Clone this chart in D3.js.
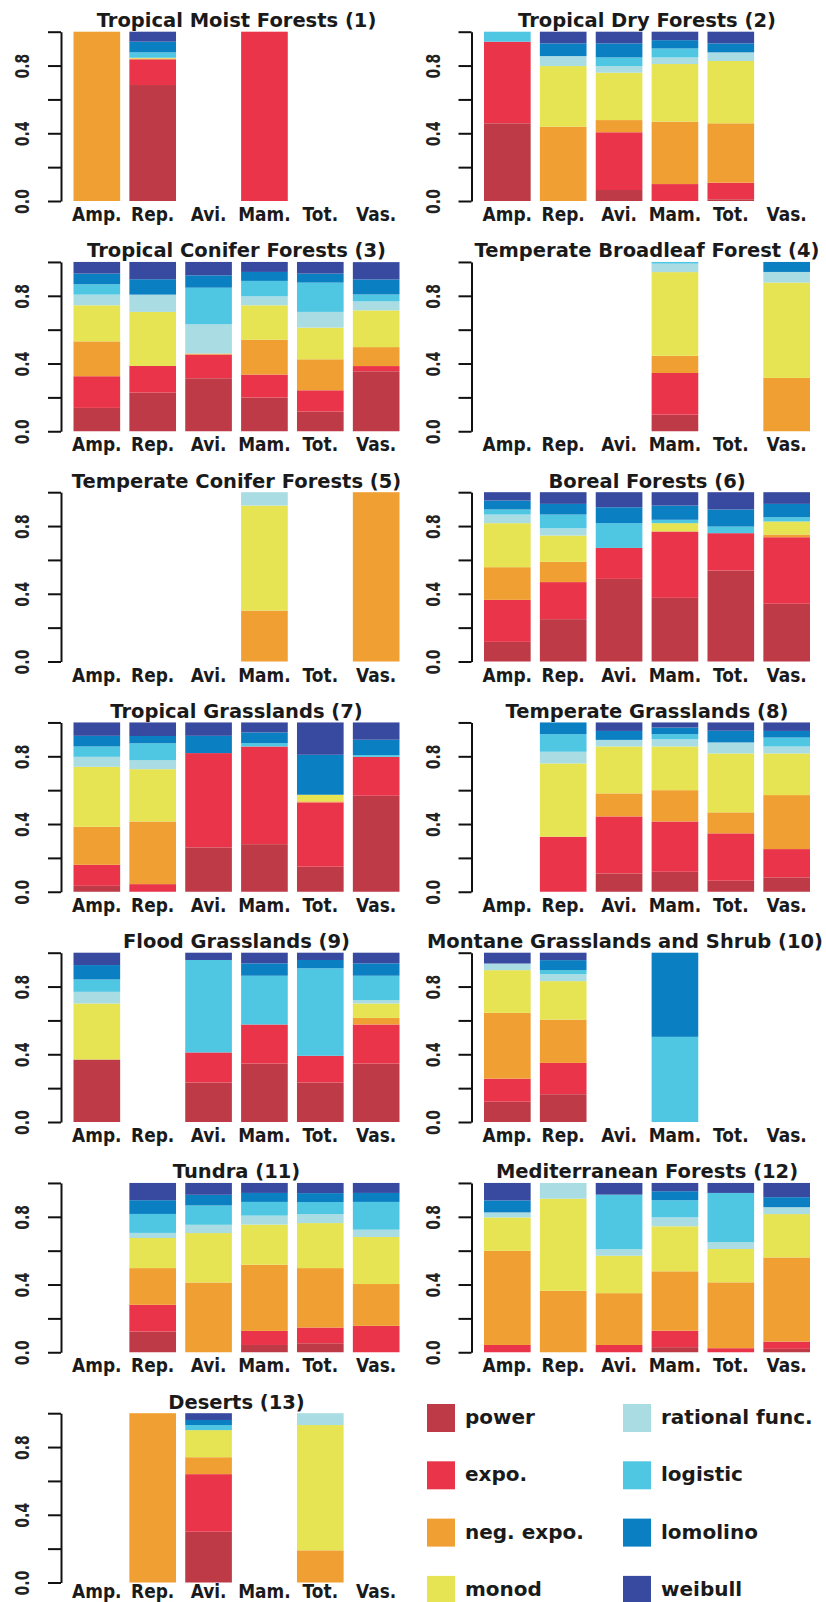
<!DOCTYPE html>
<html>
<head>
<meta charset="utf-8">
<script src="https://cdn.jsdelivr.net/npm/d3@7"></script>
<style>
  body { margin: 0; background: #fff; }
  svg { display: block; font-family: "DejaVu Sans", sans-serif; }
</style>
</head>
<body>
<svg width="826" height="1602"></svg>
<script>
// model types, in stacking order (bottom to top)
const methods = ['power', 'expo.', 'neg. expo.', 'monod', 'rational func.', 'logistic', 'lomolino', 'weibull'];
const palette = ['#be3a46', '#e9344a', '#f0a033', '#e6e452', '#a9dce3', '#4fc6e2', '#0a7fc2', '#374aa0'];
const taxa = ['Amp.', 'Rep.', 'Avi.', 'Mam.', 'Tot.', 'Vas.'];
const yTicks = [0, 0.2, 0.4, 0.6, 0.8, 1];
const yLabels = ['0.0', '', '0.4', '', '0.8', ''];

const biomes = [
  'Tropical Moist Forests (1)', 'Tropical Dry Forests (2)', 'Tropical Conifer Forests (3)',
  'Temperate Broadleaf Forest (4)', 'Temperate Conifer Forests (5)', 'Boreal Forests (6)',
  'Tropical Grasslands (7)', 'Temperate Grasslands (8)', 'Flood Grasslands (9)',
  'Montane Grasslands and Shrub (10)', 'Tundra (11)', 'Mediterranean Forests (12)', 'Deserts (13)'
];

// one entry per taxon: proportions of each method, null = no data
const tropicalMoist = [
  [0, 0, 1, 0, 0, 0, 0, 0],
  [0.685, 0.152, 0.005, 0.004, 0, 0.032, 0.063, 0.059],
  null,
  [0, 1, 0, 0, 0, 0, 0, 0],
  null,
  null
];
const tropicalDry = [
  [0.459, 0.482, 0, 0, 0, 0.059, 0, 0],
  [0, 0, 0.439, 0.358, 0.059, 0, 0.075, 0.069],
  [0.065, 0.341, 0.072, 0.280, 0.039, 0.051, 0.083, 0.069],
  [0, 0.100, 0.369, 0.340, 0.039, 0.053, 0.049, 0.050],
  [0.010, 0.098, 0.351, 0.368, 0.051, 0, 0.053, 0.069],
  null
];
const tropicalConifer = [
  [0.138, 0.187, 0.206, 0.213, 0.063, 0.061, 0.063, 0.069],
  [0.228, 0.158, 0, 0.319, 0.102, 0, 0.091, 0.102],
  [0.313, 0.140, 0.006, 0, 0.173, 0.216, 0.073, 0.079],
  [0.199, 0.136, 0.206, 0.203, 0.053, 0.091, 0.053, 0.059],
  [0.116, 0.126, 0.183, 0.187, 0.093, 0.173, 0.053, 0.069],
  [0.354, 0.031, 0.112, 0.217, 0.053, 0.041, 0.089, 0.102]
];
const temperateBroadleaf = [
  null,
  null,
  null,
  [0.098, 0.246, 0.102, 0.494, 0.050, 0.010, 0, 0],
  null,
  [0, 0, 0.315, 0.563, 0.063, 0, 0.059, 0]
];
const temperateConifer = [
  null,
  null,
  null,
  [0, 0, 0.301, 0.620, 0.079, 0, 0, 0],
  null,
  [0, 0, 1, 0, 0, 0, 0, 0]
];
const boreal = [
  [0.116, 0.248, 0.193, 0.260, 0.051, 0.030, 0.053, 0.049],
  [0.250, 0.219, 0.120, 0.155, 0.043, 0.081, 0.063, 0.069],
  [0.488, 0.183, 0, 0, 0, 0.146, 0.094, 0.089],
  [0.376, 0.392, 0, 0.049, 0, 0.020, 0.084, 0.079],
  [0.537, 0.221, 0, 0, 0, 0.039, 0.101, 0.102],
  [0.341, 0.393, 0.016, 0.077, 0, 0.025, 0.079, 0.069]
];
const tropicalGrass = [
  [0.035, 0.124, 0.225, 0.354, 0.059, 0.061, 0.063, 0.079],
  [0, 0.045, 0.370, 0.309, 0.053, 0.100, 0.043, 0.080],
  [0.262, 0.557, 0, 0, 0, 0, 0.102, 0.079],
  [0.281, 0.577, 0, 0, 0, 0.020, 0.063, 0.059],
  [0.148, 0.380, 0.006, 0.039, 0, 0, 0.236, 0.191],
  [0.567, 0.230, 0, 0, 0, 0.010, 0.091, 0.102]
];
const temperateGrass = [
  null,
  [0, 0.325, 0, 0.433, 0.069, 0.104, 0.069, 0],
  [0.108, 0.337, 0.136, 0.277, 0.039, 0, 0.053, 0.050],
  [0.118, 0.297, 0.185, 0.258, 0.043, 0.030, 0.039, 0.030],
  [0.065, 0.280, 0.124, 0.348, 0.065, 0, 0.069, 0.049],
  [0.085, 0.167, 0.319, 0.246, 0.041, 0.053, 0.039, 0.050]
];
const floodGrass = [
  [0.369, 0, 0, 0.331, 0.069, 0.073, 0.085, 0.073],
  null,
  [0.233, 0.178, 0, 0, 0, 0.546, 0, 0.043],
  [0.345, 0.231, 0, 0, 0, 0.288, 0.073, 0.063],
  [0.233, 0.158, 0, 0, 0, 0.517, 0.049, 0.043],
  [0.345, 0.231, 0.039, 0.085, 0.020, 0.144, 0.073, 0.063]
];
const montane = [
  [0.120, 0.136, 0.389, 0.252, 0.039, 0, 0, 0.064],
  [0.164, 0.185, 0.256, 0.227, 0.041, 0.024, 0.059, 0.044],
  null,
  [0, 0, 0, 0, 0, 0.503, 0.497, 0],
  null,
  null
];
const tundra = [
  null,
  [0.122, 0.158, 0.217, 0.178, 0.030, 0.112, 0.081, 0.102],
  [0, 0, 0.412, 0.292, 0.049, 0.114, 0.063, 0.070],
  [0.043, 0.083, 0.391, 0.237, 0.053, 0.081, 0.053, 0.059],
  [0.053, 0.093, 0.351, 0.266, 0.053, 0.071, 0.053, 0.060],
  [0, 0.156, 0.247, 0.278, 0.043, 0.164, 0.053, 0.059]
];
const mediterranean = [
  [0, 0.043, 0.556, 0.197, 0.030, 0, 0.071, 0.103],
  [0, 0, 0.363, 0.544, 0.093, 0, 0, 0],
  [0, 0.043, 0.306, 0.221, 0.039, 0.322, 0, 0.069],
  [0.030, 0.097, 0.351, 0.266, 0.053, 0.101, 0.053, 0.049],
  [0, 0.024, 0.389, 0.197, 0.041, 0.290, 0, 0.059],
  [0.020, 0.043, 0.497, 0.256, 0.041, 0, 0.059, 0.084]
];
const deserts = [
  null,
  [0, 0, 1, 0, 0, 0, 0, 0],
  [0.300, 0.340, 0.100, 0.160, 0, 0.030, 0.030, 0.040],
  null,
  [0, 0, 0.190, 0.740, 0.070, 0, 0, 0],
  null
];

const panels = [tropicalMoist, tropicalDry, tropicalConifer, temperateBroadleaf, temperateConifer, boreal,
  tropicalGrass, temperateGrass, floodGrass, montane, tundra, mediterranean, deserts];

const W = 826, H = 1602;
const svg = d3.select('svg');
const rowStep = 230.25;
const colX = [0, 410.5];

const x = d3.scaleBand().domain(taxa).range([73.5, 399.5]).paddingInner(0.165).paddingOuter(0);
const y = d3.scaleLinear().domain([0, 1]).range([201, 31.7]);
const color = d3.scaleOrdinal().domain(methods).range(palette);
const stack = d3.stack().keys(methods);

panels.forEach((vals, i) => {
  const row = Math.floor(i / 2), col = i % 2;
  const top = row * rowStep;
  const g = svg.append('g')
    .attr('transform', `translate(${colX[col]},${top})`);

  const rows = taxa.map((t, j) => {
    const o = {taxon: t};
    methods.forEach((m, k) => o[m] = vals[j] ? vals[j][k] : 0);
    return o;
  });
  const series = stack(rows);

  g.selectAll('g.layer')
    .data(series)
    .join('g')
      .attr('class', 'layer')
      .attr('fill', d => color(d.key))
    .selectAll('rect')
    .data(d => d.filter(p => p[1] - p[0] > 0))
    .join('rect')
      .attr('x', d => x(d.data.taxon))
      .attr('width', x.bandwidth())
      .attr('y', d => y(Math.min(d[1], 1)))
      .attr('height', d => y(d[0]) - y(Math.min(d[1], 1)));

  // y axis
  const ax = g.append('g')
    .attr('transform', 'translate(61,0)')
    .call(d3.axisLeft(y).tickValues(yTicks).tickSize(13).tickSizeOuter(0)
      .tickFormat((d, k) => yLabels[k]));
  ax.select('.domain').attr('stroke', '#111').attr('stroke-width', 2);
  ax.selectAll('.tick line').attr('stroke', '#111').attr('stroke-width', 2);
  ax.selectAll('.tick text')
    .attr('transform', 'rotate(-90) translate(0,-32) scale(1,1.35)')
    .attr('x', 0).attr('y', 0).attr('dy', 0)
    .attr('text-anchor', 'middle')
    .attr('fill', '#222')
    .style('font-size', '14px')
    .style('font-weight', 'bold')
    .style('font-family', '"DejaVu Sans", sans-serif');

  // category labels
  const labelY = Math.min(221, H - 4 - top);
  g.selectAll('text.cat')
    .data(taxa)
    .join('text')
      .attr('class', 'cat')
      .attr('transform', d => `translate(${x(d) + x.bandwidth() / 2},${labelY}) scale(1,1.15)`)
      .attr('text-anchor', 'middle')
      .attr('font-weight', 'bold')
      .attr('font-size', 17)
      .attr('fill', '#1a1a1a')
      .text(d => d);

  const title = g.append('text')
    .attr('x', (73.5 + 399.5) / 2)
    .attr('y', 27)
    .attr('text-anchor', 'middle')
    .attr('font-weight', 'bold')
    .attr('font-size', 19.5)
    .attr('fill', '#1a1a1a')
    .text(biomes[i]);
  // keep long titles inside the page
  const tw = title.node().getComputedTextLength();
  const right = colX[col] + (73.5 + 399.5) / 2 + tw / 2;
  if (right > W - 3) title.attr('x', (73.5 + 399.5) / 2 - (right - (W - 3)));
});

// legend
const legend = svg.append('g');
const items = legend.selectAll('g')
  .data(methods)
  .join('g')
    .attr('transform', (d, k) => `translate(${427 + Math.floor(k / 4) * 196},${1404 + (k % 4) * 57.3})`);
items.append('rect')
  .attr('width', 28).attr('height', 28)
  .attr('fill', d => color(d));
items.append('text')
  .attr('x', 38).attr('y', 20)
  .attr('font-weight', 'bold')
  .attr('font-size', 20)
  .attr('fill', '#1a1a1a')
  .text(d => d);
</script>
</body>
</html>
